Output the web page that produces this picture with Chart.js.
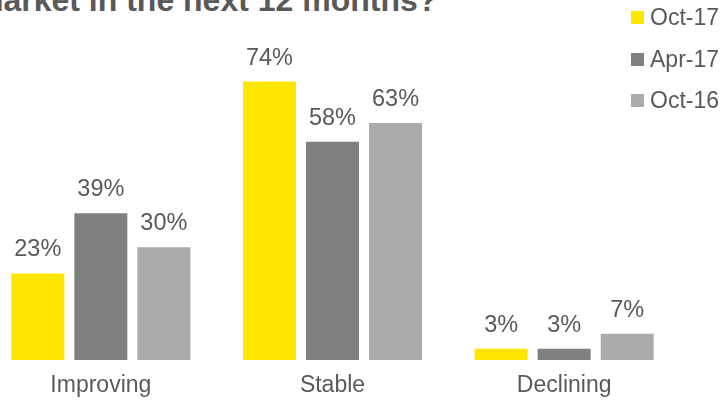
<!DOCTYPE html>
<html>
<head>
<meta charset="utf-8">
<script src="https://cdn.jsdelivr.net/npm/chart.js@4"></script>
<style>
  html, body { margin:0; padding:0; background:#fff; overflow:hidden; }
  body { width:723px; height:402px; position:relative; font-family:"Liberation Sans", Arial, sans-serif; color:#595959; }
  .title { position:absolute; left:-25px; top:-16px; font-size:32px; line-height:32px; font-weight:bold; white-space:nowrap; color:#595959; }
  .chart-wrap { position:absolute; left:-15px; top:0; width:695px; height:402px; }
  .legend { position:absolute; left:631px; top:0; }
  .legend .item { position:absolute; left:0; height:23px; font-size:23px; line-height:23px; white-space:nowrap; }
  .legend .sw { position:absolute; left:0; top:5px; width:13px; height:13px; }
  .legend .lbl { position:absolute; left:19px; top:0; }
</style>
</head>
<body>
<div class="title">market in the next 12 months?</div>
<div class="chart-wrap"><canvas id="chart"></canvas></div>
<div class="legend" id="legend"></div>
<script>
  const categories = ['Improving', 'Stable', 'Declining'];
  const seriesNames = ['Oct-17', 'Apr-17', 'Oct-16'];
  const oct17 = [23, 74, 3];
  const apr17 = [39, 58, 3];
  const oct16 = [30, 63, 7];
  const colors = ['#FFE600', '#808080', '#ABABAB'];

  const FONT = '"Liberation Sans", Arial, sans-serif';
  const TEXT = '#595959';

  // leyenda a la derecha, fuera del canvas
  const leg = document.getElementById('legend');
  seriesNames.forEach((n, i) => {
    const it = document.createElement('div');
    it.className = 'item';
    it.style.top = (6 + i * 41.5) + 'px';
    it.innerHTML = `<span class="sw" style="background:${colors[i]}"></span><span class="lbl">${n}</span>`;
    leg.appendChild(it);
  });

  // etiquetas de valor encima de cada barra y nombres de categoría bajo el eje
  const labelsPlugin = {
    id: 'labels',
    afterDatasetsDraw(chart) {
      const { ctx, scales: { x }, chartArea } = chart;
      ctx.save();
      ctx.fillStyle = TEXT;
      ctx.textAlign = 'center';
      ctx.textBaseline = 'alphabetic';
      ctx.font = '23.5px ' + FONT;
      chart.data.datasets.forEach((ds, di) => {
        chart.getDatasetMeta(di).data.forEach((bar, i) => {
          ctx.fillText(ds.data[i] + '%', bar.x, bar.y - 17);
        });
      });
      ctx.font = '23px ' + FONT;
      categories.forEach((c, i) => {
        ctx.fillText(c, x.getPixelForValue(i), chartArea.bottom + 32);
      });
      ctx.restore();
    }
  };

  new Chart(document.getElementById('chart'), {
    type: 'bar',
    data: {
      labels: categories,
      datasets: [oct17, apr17, oct16].map((d, i) => ({
        label: seriesNames[i],
        data: d,
        backgroundColor: colors[i],
        borderWidth: 0,
        categoryPercentage: 0.816,
        barPercentage: 0.841
      }))
    },
    options: {
      responsive: true,
      maintainAspectRatio: false,
      animation: false,
      layout: { padding: { top: 59, bottom: 42, left: 0, right: 0 } },
      plugins: { legend: { display: false }, title: { display: false }, tooltip: { enabled: false } },
      scales: {
        x: { display: false },
        y: { display: false, min: 0, max: 80 }
      }
    },
    plugins: [labelsPlugin]
  });
</script>
</body>
</html>
